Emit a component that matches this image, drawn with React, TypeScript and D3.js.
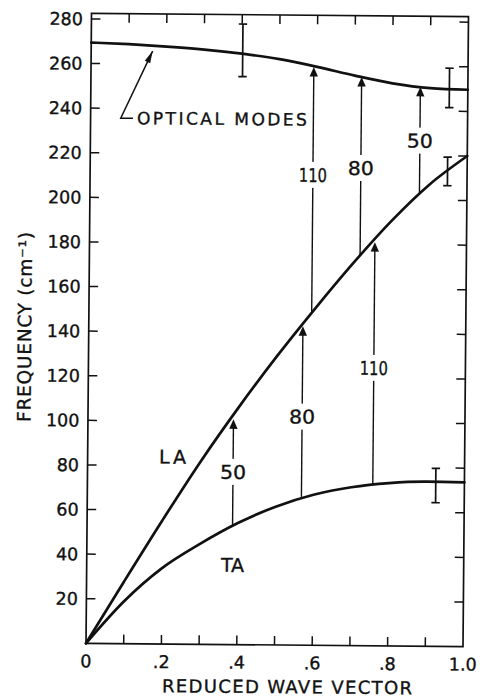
import * as d3 from "d3";

// reduced wave vector samples and branch frequencies (cm-1)
const Q = [0, 0.1, 0.2, 0.3, 0.4, 0.5, 0.6, 0.7, 0.8, 0.9, 1.0];
const OPTICAL = [269.4, 268.8, 267.9, 266.7, 265.0, 262.7, 259.4, 255.6, 252.3, 250.3, 249.7];
const LA = [0, 28, 55.5, 82, 106.5, 129.5, 151, 171.5, 190.5, 207, 220];
const TA = [0, 19, 34, 45, 54.5, 62, 67.5, 71, 73, 73.8, 73.6];

// vertical transition arrows
const ARROW_Q = [0.386, 0.568, 0.757, 0.591, 0.718, 0.874];
const ARROW_FROM = [53, 66.5, 72.5, 149.5, 175, 202.5];
const ARROW_TO = [101, 143, 181, 259.3, 255, 250.8];
const ARROW_LABELS = ["50", "80", "110", "110", "80", "50"];
const ARROW_LABEL_AT = [77.4, 102.5, 124.6, 210.9, 214.2, 226.7];

// error bars
const ERR_Q = [0.402, 0.951, 0.948, 0.924];
const ERR_LOW = [254.7, 241.6, 206.6, 64.4];
const ERR_HIGH = [278.3, 259.3, 219.4, 79.8];

// axes
const X_MINOR = [0.1, 0.2, 0.3, 0.4, 0.5, 0.6, 0.7, 0.8, 0.9];
const X_LABEL_VALUES = [0, 0.2, 0.4, 0.6, 0.8, 1.0];
const X_LABELS = ["0", ".2", ".4", ".6", ".8", "1.0"];
const Y_TICKS = [20, 40, 60, 80, 100, 120, 140, 160, 180, 200, 220, 240, 260, 280];

// branch names
const BRANCH_LABELS = ["LA", "TA"];
const BRANCH_LABEL_Q = [0.229, 0.387];
const BRANCH_LABEL_F = [84.0, 35.7];

// "OPTICAL MODES" pointer: tip, corner, end
const LEADER_Q = [0.163, 0.08, 0.1125];
const LEADER_F = [265.8, 235.6, 235.6];

const W = 480;
const H = 698;
const left = 86;
const right = 463;
const top = 13.3;
const bottom = 643.3;
const FONT = "'DejaVu Sans', Verdana, sans-serif";
const INK = "#111";

export default function App() {
  const x = d3.scaleLinear().domain([0, 1]).range([left, right]);
  const y = d3.scaleLinear().domain([0, 282.5]).range([bottom, top]);

  const line = d3
    .line<number>()
    .x((_, i) => x(Q[i]))
    .y((d) => y(d))
    .curve(d3.curveMonotoneX);

  const tip = [x(LEADER_Q[0]), y(LEADER_F[0])];
  const corner = [x(LEADER_Q[1]), y(LEADER_F[1])];
  const len = Math.hypot(tip[0] - corner[0], tip[1] - corner[1]);
  const ux = (tip[0] - corner[0]) / len;
  const uy = (tip[1] - corner[1]) / len;
  const bx = tip[0] - ux * 12;
  const by = tip[1] - uy * 12;
  const leaderHead = `${tip[0]},${tip[1]} ${bx - uy * 3},${by + ux * 3} ${bx + uy * 3},${by - ux * 3}`;

  const textStyle = { stroke: INK, strokeWidth: 0.35 };

  return (
    <svg
      width={W}
      height={H}
      viewBox={`0 0 ${W} ${H}`}
      style={{ position: "absolute", left: 0, top: 0, background: "#fff" }}
      fontFamily={FONT}
    >
      <rect width={W} height={H} fill="#fff" />
      <g transform={`rotate(0.5 ${left} ${bottom})`}>
        {/* frame */}
        <rect
          x={x(0)}
          y={y(282.5)}
          width={x(1) - x(0)}
          height={y(0) - y(282.5)}
          fill="none"
          stroke={INK}
          strokeWidth={1.7}
        />

        {/* x ticks, bottom and top */}
        {X_MINOR.map((q) => (
          <g key={`xt-${q}`} stroke={INK} strokeWidth={1.5}>
            <line x1={x(q)} x2={x(q)} y1={y(0)} y2={y(0) - 9} />
            <line x1={x(q)} x2={x(q)} y1={y(282.5)} y2={y(282.5) + 9} />
          </g>
        ))}
        {X_LABEL_VALUES.map((q, i) => (
          <text key={`xl-${q}`} x={x(q)} y={y(0) + 24} textAnchor="middle" fontSize={17.5} fill={INK} style={textStyle}>
            {X_LABELS[i]}
          </text>
        ))}

        {/* y ticks, left and right */}
        {Y_TICKS.map((f) => (
          <g key={`yt-${f}`}>
            <line x1={x(0)} x2={x(0) + 9} y1={y(f)} y2={y(f)} stroke={INK} strokeWidth={1.5} />
            <line x1={x(1)} x2={x(1) - 9} y1={y(f)} y2={y(f)} stroke={INK} strokeWidth={1.5} />
            <text x={x(0) - 8.5} y={y(f) + 6.3} textAnchor="end" fontSize={17.5} fill={INK} style={textStyle}>
              {f}
            </text>
          </g>
        ))}

        {/* axis titles */}
        <text
          x={287.4}
          y={691.5}
          textAnchor="middle"
          fontSize={18}
          fill={INK}
          style={textStyle}
          textLength={250}
          lengthAdjust="spacing"
        >
          REDUCED WAVE VECTOR
        </text>
        <text
          transform={`translate(28.5 ${327.5}) rotate(-90)`}
          textAnchor="middle"
          fontSize={18.5}
          fill={INK}
          style={textStyle}
          textLength={190}
          lengthAdjust="spacing"
        >
          FREQUENCY (cm⁻¹)
        </text>

        {/* dispersion branches */}
        {[OPTICAL, LA, TA].map((series, i) => (
          <path
            key={`branch-${i}`}
            d={line(series) || ""}
            fill="none"
            stroke={INK}
            strokeWidth={2.7}
            strokeLinejoin="round"
            strokeLinecap="round"
          />
        ))}

        {/* error bars */}
        {ERR_Q.map((q, i) => (
          <g key={`err-${i}`} stroke={INK} strokeWidth={1.7}>
            <line x1={x(q)} x2={x(q)} y1={y(ERR_LOW[i])} y2={y(ERR_HIGH[i])} />
            <line x1={x(q) - 4.2} x2={x(q) + 4.2} y1={y(ERR_LOW[i])} y2={y(ERR_LOW[i])} />
            <line x1={x(q) - 4.2} x2={x(q) + 4.2} y1={y(ERR_HIGH[i])} y2={y(ERR_HIGH[i])} />
          </g>
        ))}

        {/* transition arrows */}
        {ARROW_Q.map((q, i) => {
          const ax = x(q);
          const yTip = y(ARROW_TO[i]);
          const yl = y(ARROW_LABEL_AT[i]);
          const label = ARROW_LABELS[i];
          const w = label.length === 3 ? 28 : 26;
          return (
            <g key={`arrow-${i}`}>
              <line x1={ax} x2={ax} y1={y(ARROW_FROM[i])} y2={yTip + 8} stroke={INK} strokeWidth={1.4} />
              <polygon points={`${ax},${yTip} ${ax - 4.2},${yTip + 9.5} ${ax + 4.2},${yTip + 9.5}`} fill={INK} />
              <rect x={ax - w / 2 - 2} y={yl - 13} width={w + 4} height={26} fill="#fff" />
              <text
                x={ax}
                y={yl + 7}
                textAnchor="middle"
                fontSize={19}
                fill={INK}
                style={textStyle}
                textLength={w}
                lengthAdjust="spacingAndGlyphs"
              >
                {label}
              </text>
            </g>
          );
        })}

        {/* branch labels */}
        {BRANCH_LABELS.map((lab, i) => (
          <text
            key={lab}
            x={x(BRANCH_LABEL_Q[i])}
            y={y(BRANCH_LABEL_F[i]) + 7}
            textAnchor="middle"
            fontSize={19}
            fill={INK}
            style={textStyle}
            letterSpacing={i === 0 ? 3 : 0}
          >
            {lab}
          </text>
        ))}

        {/* optical modes pointer */}
        <polyline
          points={LEADER_Q.map((q, i) => `${x(q)},${y(LEADER_F[i])}`).join(" ")}
          fill="none"
          stroke={INK}
          strokeWidth={1.5}
        />
        <polygon points={leaderHead} fill={INK} />
        <text
          x={x(0.123)}
          y={y(235.8) + 6.3}
          fontSize={17}
          fill={INK}
          style={textStyle}
          textLength={170}
          lengthAdjust="spacing"
        >
          OPTICAL MODES
        </text>
      </g>
    </svg>
  );
}
